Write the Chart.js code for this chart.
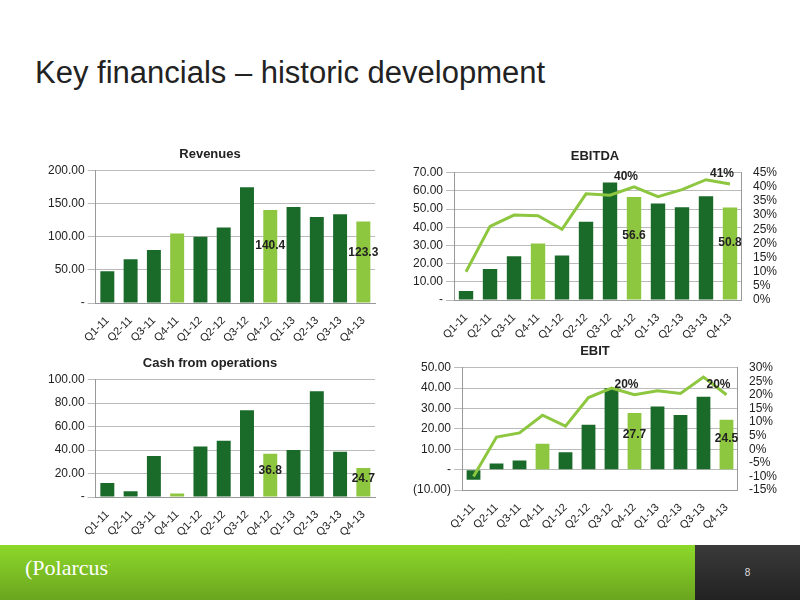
<!DOCTYPE html>
<html><head><meta charset="utf-8">
<script src="https://cdn.jsdelivr.net/npm/chart.js@4"></script>
<style>
body{margin:0;width:800px;height:600px;position:relative;background:#fff;font-family:Arial,"Liberation Sans",sans-serif;overflow:hidden}
h1{position:absolute;left:35px;top:55px;margin:0;font-weight:normal;font-size:31px;color:#222}
.c{position:absolute}
#footer{position:absolute;left:0;top:545px;width:800px;height:55px;background:linear-gradient(#8dd82a,#6aa51f)}
#dark{position:absolute;left:695px;top:545px;width:105px;height:55px;background:linear-gradient(#3a3a3a,#222);color:#ddd;font-size:10px;text-align:center;line-height:55px}
#logo{position:absolute;left:25px;top:555px;color:#fff;font-family:"Liberation Serif",serif;font-size:22px}
</style></head><body>
<h1>Key financials – historic development</h1>
<div class="c" style="left:45px;top:143px;width:340px;height:205px"><canvas id="rev"></canvas></div>
<div class="c" style="left:410px;top:145px;width:370px;height:200px"><canvas id="ebitda"></canvas></div>
<div class="c" style="left:45px;top:352px;width:340px;height:190px"><canvas id="cash"></canvas></div>
<div class="c" style="left:410px;top:340px;width:370px;height:195px"><canvas id="ebit"></canvas></div>
<div id="footer"></div><div id="dark">8</div>
<div id="logo">(Polarcus<sup style="font-size:8px">·</sup></div>
<script>
const categories=["Q1-11","Q2-11","Q3-11","Q4-11","Q1-12","Q2-12","Q3-12","Q4-12","Q1-13","Q2-13","Q3-13","Q4-13"];
const revenues=[48,66,80,105,100,114,175,140.4,145,130,134,123.3];
const ebitda=[5,17,24,31,24.5,43,64.5,56.6,53,51,57,50.8];
const ebitdaMargin=[10,26,30,29.8,25,37.5,37,40,36.5,39,42.5,41];
const cash=[12,5,35,3,43,48,74,36.8,40,90,38.5,24.7];
const ebit=[-5,3,4.5,12.7,8.5,22,40,27.7,31,26.8,35.7,24.5];
const ebitMargin=[-10,4.5,6,12.5,8.5,19,22.5,20,21.5,20.5,26.5,20];
const labelIdx=[7,11];
const DARK="#1a6b2a",LIGHT="#8dc63f";
const colors=categories.map((c,i)=>c.startsWith("Q4")?LIGHT:DARK);
Chart.defaults.font.family="Arial, 'Liberation Sans', sans-serif";
Chart.defaults.color="#333";
const fmt=v=>v===0?"-":(v<0?"("+Math.abs(v).toFixed(2)+")":v.toFixed(2));
const labelPlugin={id:"lbl",afterDatasetsDraw(ch){
  const ctx=ch.ctx;ctx.save();ctx.font="bold 12px Arial";ctx.fillStyle="#222";ctx.textAlign="center";ctx.textBaseline="middle";
  const bm=ch.getDatasetMeta(ch.data.datasets.findIndex(d=>d.type!=="line"));
  const bd=ch.data.datasets.find(d=>d.type!=="line").data;
  labelIdx.forEach(i=>{const y=ch.scales.y.getPixelForValue(bd[i]*0.62);ctx.fillText(bd[i].toFixed(1),bm.data[i].x,y);});
  const li=ch.data.datasets.findIndex(d=>d.type==="line");
  if(li>=0){const lm=ch.getDatasetMeta(li);const ld=ch.data.datasets[li].data;
    labelIdx.forEach(i=>ctx.fillText(Math.round(ld[i])+"%",lm.data[i].x-8,lm.data[i].y-10));}
  ctx.restore();}};
function make(id,title,bars,line,y,y1,pad){
  const ds=[];
  if(line)ds.push({type:"line",data:line,borderColor:LIGHT,borderWidth:3,pointRadius:0,yAxisID:"y1",order:0});
  ds.push({type:"bar",data:bars,backgroundColor:colors,barPercentage:0.6,categoryPercentage:1,yAxisID:"y",order:1});
  const scales={x:{grid:{display:false},border:{color:"#999"},ticks:{autoSkip:false,maxRotation:45,minRotation:45,font:{size:11},color:"#222"}},
    y:{min:y[0],max:y[1],ticks:{stepSize:y[2],callback:fmt,font:{size:12},color:"#222"},grid:{color:"#bbb"},border:{color:"#999"}}};
  if(y1)scales.y1={position:"right",min:y1[0],max:y1[1],ticks:{stepSize:5,autoSkip:false,callback:v=>v+"%",font:{size:12},color:"#222"},grid:{display:false},border:{color:"#999"}};
  new Chart(document.getElementById(id),{data:{labels:categories,datasets:ds},plugins:[labelPlugin],
    options:{responsive:true,maintainAspectRatio:false,animation:false,layout:{padding:pad},
      plugins:{legend:{display:false},tooltip:{enabled:false},title:{display:true,text:title,font:{size:13,weight:"bold"},color:"#222",padding:{top:4,bottom:8}}},scales}});
}
make("rev","Revenues",revenues,null,[0,200,50],null,{left:0,right:10});
make("ebitda","EBITDA",ebitda,ebitdaMargin,[0,70,10],[0,45],{left:0,right:0});
make("cash","Cash from operations",cash,null,[0,100,20],null,{left:0,right:10});
make("ebit","EBIT",ebit,ebitMargin,[-10,50,10],[-15,30],{left:0,right:0});
</script></body></html>
